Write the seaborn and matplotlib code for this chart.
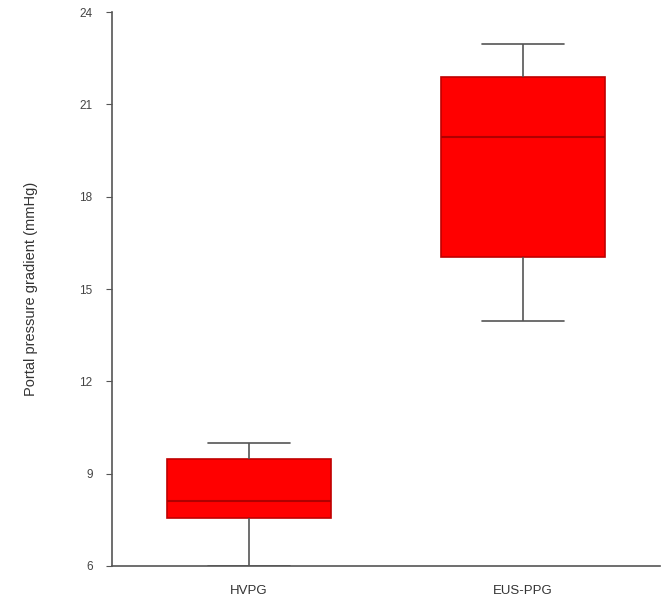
import matplotlib
matplotlib.use("Agg")
import matplotlib.pyplot as plt
import seaborn as sns
import pandas as pd

# Five-number summaries (min, q1, median, q3, max)
groups = ["HVPG", "EUS-PPG"]
hvpg_values = [6.0, 7.56, 8.1, 9.47, 10.0]
eus_values = [13.95, 16.05, 19.95, 21.9, 22.95]
y_ticks = [6, 9, 12, 15, 18, 21, 24]

df = pd.DataFrame({
    "group": [groups[0]] * len(hvpg_values) + [groups[1]] * len(eus_values),
    "value": hvpg_values + eus_values,
})

sns.set_style("ticks")
plt.rcParams['font.family'] = ['Liberation Sans', 'DejaVu Sans']

fig = plt.figure(figsize=(6.68, 6.05), dpi=100)
ax = fig.add_axes([0.1677, 0.0645, 0.8203, 0.9155])

sns.boxplot(data=df, x="group", y="value", order=groups, ax=ax,
            width=0.6, color="#ff0000", saturation=1, whis=10,
            linewidth=1.2,
            boxprops=dict(facecolor="#ff0000", edgecolor="#c00000"),
            medianprops=dict(color="#b00000", linewidth=1.5),
            whiskerprops=dict(color="#555555"),
            capprops=dict(color="#555555"),
            showfliers=False)

ax.set_xlim(-0.5, 1.5)
ax.set_ylim(6, 24)
ax.set_yticks(y_ticks)
ax.set_yticklabels([str(t) for t in y_ticks], fontsize=8.5, color="#444444")
ax.tick_params(axis="x", labelsize=9.5, colors="#333333", length=0, pad=14)
ax.tick_params(axis="y", length=4, color="#555555", pad=10)
ax.set_xlabel("")
ax.set_ylabel("Portal pressure gradient (mmHg)", fontsize=10.5, color="#333333", labelpad=30)
for s in ["top", "right"]:
    ax.spines[s].set_visible(False)
for s in ["left", "bottom"]:
    ax.spines[s].set_color("#555555")
    ax.spines[s].set_linewidth(1.2)

fig.savefig("out.png", dpi=100)
